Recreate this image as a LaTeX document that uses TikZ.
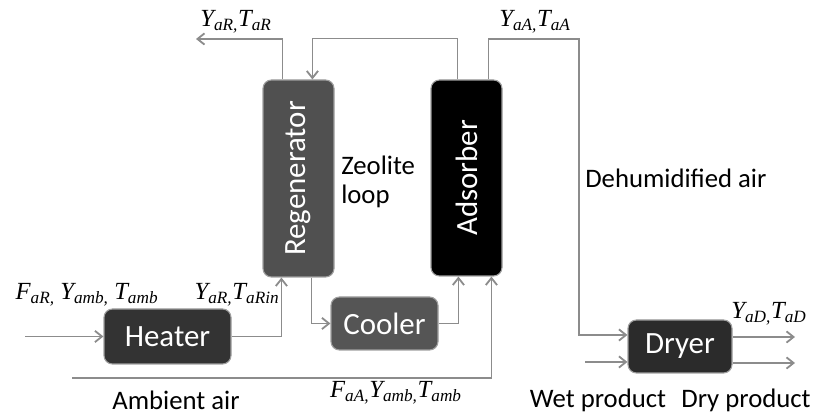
\documentclass[tikz,border=0pt]{standalone}
\usepackage{fontspec}
\setmainfont{Carlito}
\newfontfamily\tms{Liberation Serif}
\usetikzlibrary{arrows.meta,positioning}
\definecolor{pipe}{HTML}{8C8C8C}
\definecolor{regcol}{HTML}{505050}
\definecolor{heatcol}{HTML}{333333}
\definecolor{coolcol}{HTML}{555555}
\definecolor{drycol}{HTML}{2B2B2B}
\newcommand{\sv}[2]{{\tms\itshape #1\textsubscript{#2}}}
\def\px{0.025cm}
\tikzset{
  unit/.style={rectangle,draw=gray!75,rounded corners=6pt,line width=0.8pt,
               inner sep=0pt,text=white,font=\fontsize{22}{25}\selectfont},
  arr/.style={-{Straight Barb[length=5pt,width=8pt]},draw=pipe,line width=1.3pt},
  vlab/.style={font=\fontsize{17.5}{20}\selectfont,inner sep=0pt},
  tlab/.style={font=\fontsize{19}{22}\selectfont,inner sep=0pt,align=left},
}

\begin{document}
\begin{tikzpicture}[x=\px,y=\px]
  \useasboundingbox (0,0) rectangle (817,419);
  %% Units
  \node[unit,fill=regcol,minimum width=71*\px,minimum height=197*\px] (regen)
    at (298.5,240.5) {\rotatebox{90}{Regenerator}};
  \node[unit,fill=black,minimum width=71*\px,minimum height=196*\px] (ads)
    at (466.5,241) {\rotatebox{90}{Adsorber}};
  \node[unit,fill=heatcol,minimum width=127*\px,minimum height=55*\px] (heat)
    at (167.5,82.5) {Heater};
  \node[unit,fill=coolcol,minimum width=107*\px,minimum height=53*\px] (cool)
    at (384.5,95.5) {Cooler};
  \node[unit,fill=drycol,minimum width=104*\px,minimum height=53*\px] (dry)
    at (680,72.5) {Dryer};
  %% Free ends
  \coordinate (outR) at (196,380);
  \coordinate (hin) at (25,82.5);
  \coordinate (amb) at (72,41);
  \coordinate (wet) at (585,57);
  \coordinate (dOut1) at (795,82);
  \coordinate (dOut2) at (795,56);
  \coordinate (bendA) at (579,380);
  %% Regeneration air
  \draw[arr] (hin) -- (heat.west);
  \draw[arr] (heat.east) -| ([xshift=19*\px]regen.south west);
  \draw[arr] (regen.north west) ++(20,0) |- (outR);
  %% Zeolite loop
  \draw[arr] (ads.north west) ++(27,0) -- ++(0,41)
    -| ([xshift=50*\px]regen.north west);
  \draw[arr] ([xshift=49*\px]regen.south west) |- (cool.west);
  \draw[arr] (cool.east) -| ([xshift=28*\px]ads.south west);
  %% Process air
  \draw[arr] (amb) -| ([xshift=61*\px]ads.south west);
  \draw[arr] (ads.north west) ++(58,0) |- (bendA) |- ([yshift=11.5*\px]dry.west);
  \draw[arr] (wet) -- (dry.west |- wet);
  \draw[arr] (dry.east |- dOut1) -- (dOut1);
  \draw[arr] (dry.east |- dOut2) -- (dOut2);
  %% Labels
  \node[vlab] (lRout) at (236,397) {\sv{Y}{aR,}\sv{T}{aR}};
  \node[vlab] (lAout) at (535,397) {\sv{Y}{aA,}\sv{T}{aA}};
  \node[vlab] (lRin) at (87,124) {\sv{F}{aR,} \sv{Y}{amb,} \sv{T}{amb}};
  \node[vlab] (lHout) at (237,124) {\sv{Y}{aR,}\sv{T}{aRin}};
  \node[vlab] (lAin) at (396,26) {\sv{F}{aA,}\sv{Y}{amb,}\sv{T}{amb}};
  \node[vlab] (lDout) at (769,105) {\sv{Y}{aD,}\sv{T}{aD}};
  \node[tlab,anchor=west] (zeo) at (341,237) {Zeolite\\[-1pt]loop};
  \node[tlab,anchor=west] (dehum) at (585,241) {Dehumidified air};
  \node[tlab] (ambl) at (176,19) {Ambient air};
  \node[tlab] (wetl) at (598,19) {Wet product};
  \node[tlab] (dryl) at (746,19) {Dry product};
\end{tikzpicture}
\end{document}
